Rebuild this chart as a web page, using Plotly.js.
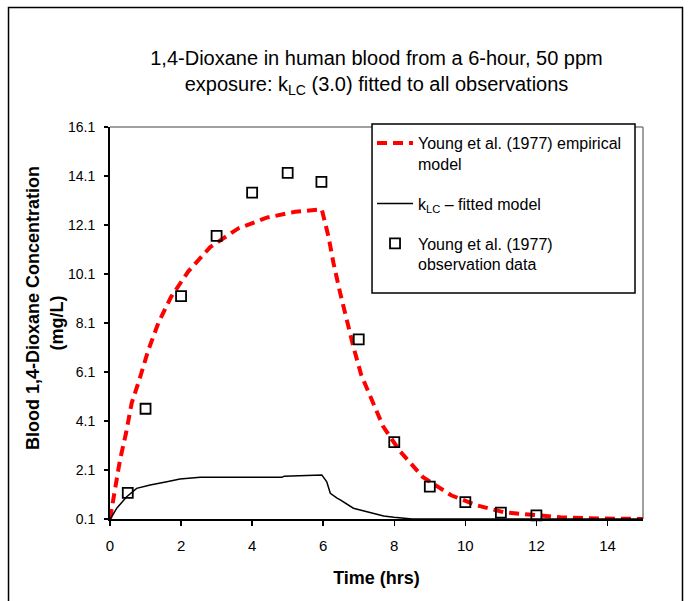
<!DOCTYPE html>
<html>
<head>
<meta charset="utf-8">
<script src="https://cdn.plot.ly/plotly-3.0.1.min.js"></script>
<style>html,body{margin:0;padding:0;background:#fff;}#chart{width:697px;height:601px;}</style>
</head>
<body>
<div id="chart"></div>
<script>
// Young et al. (1977) empirical model (red dashed)
var youngTime = [0, 0.14, 0.28, 0.45, 0.61, 0.85, 1.08, 1.36, 1.72, 2.2, 2.82, 3.61, 4.41, 5.21, 5.96, 6.15, 6.29, 6.48, 6.64, 6.85, 7.07, 7.37, 7.69, 8.17, 8.8, 9.6, 10.3, 11.1, 11.85, 12.68, 13.45, 14.15, 15];
var youngConc = [0.1, 1.42, 2.5, 3.6, 4.83, 5.9, 7.0, 8.1, 9.17, 10.2, 11.2, 11.96, 12.4, 12.64, 12.74, 11.62, 10.54, 9.31, 8.29, 7.13, 5.98, 4.96, 3.87, 2.85, 1.82, 1.07, 0.67, 0.37, 0.28, 0.17, 0.13, 0.1, 0.1];

// kLC fitted model (black solid)
var kTime = [0, 0.05, 0.19, 0.47, 0.75, 1.13, 1.6, 1.97, 2.54, 4.84, 4.9, 5.96, 6.1, 6.2, 6.39, 6.48, 6.85, 7.24, 7.7, 7.99, 8.5, 10.5, 15];
var kConc = [0.1, 0.2, 0.54, 1.01, 1.35, 1.49, 1.62, 1.73, 1.8, 1.8, 1.85, 1.9, 1.62, 1.15, 0.95, 0.88, 0.54, 0.4, 0.22, 0.17, 0.1, 0.1, 0.1];

// Young et al. (1977) observation data (open squares)
var obsTime = [0.5, 1, 2, 3, 4, 5, 5.95, 7, 8, 9, 10, 11, 12];
var obsConc = [1.17, 4.6, 9.2, 11.66, 13.42, 14.23, 13.86, 7.43, 3.24, 1.42, 0.79, 0.36, 0.25];

// axis ticks
var xTicks = [0, 2, 4, 6, 8, 10, 12, 14];
var yTicks = [0.1, 2.1, 4.1, 6.1, 8.1, 10.1, 12.1, 14.1, 16.1];
var yTickLabels = ['0.1', '2.1', '4.1', '6.1', '8.1', '10.1', '12.1', '14.1', '16.1'];

var FONT = 'Arial, "Liberation Sans", sans-serif';

var traces = [
  {
    x: youngTime, y: youngConc, type: 'scatter', mode: 'lines',
    name: 'Young et al. (1977) empirical<br>model', legendgroup: 'a',
    line: {color: '#ff0000', width: 4, dash: '10px,6px'}
  },
  {
    x: kTime, y: kConc, type: 'scatter', mode: 'lines',
    name: 'k<sub>LC</sub> \u2013 fitted model', legendgroup: 'b',
    line: {color: '#000000', width: 1.5}
  },
  {
    x: obsTime, y: obsConc, type: 'scatter', mode: 'markers',
    name: 'Young et al. (1977)<br>observation data', legendgroup: 'c',
    marker: {symbol: 'square-open', size: 10, color: '#000000', line: {width: 1.8, color: '#000000'}},
    cliponaxis: false
  }
];

var layout = {
  width: 697, height: 601,
  margin: {l: 110, r: 54, t: 127, b: 82},
  paper_bgcolor: '#ffffff', plot_bgcolor: '#ffffff',
  font: {family: FONT, color: '#000000', size: 15},
  showlegend: true,
  title: {
    text: '1,4-Dioxane in human blood from a 6-hour, 50 ppm<br>exposure: k<sub>LC</sub> (3.0) fitted to all observations',
    font: {family: FONT, size: 20, color: '#000000'},
    xref: 'paper', x: 0.5, xanchor: 'center',
    yref: 'container', y: 0.892, yanchor: 'middle'
  },
  xaxis: {
    range: [0, 15], tickvals: xTicks, ticktext: xTicks.map(String),
    showgrid: false, zeroline: false,
    showline: true, linecolor: '#000000', linewidth: 2,
    ticks: 'outside', ticklen: 5, tickwidth: 1.5, tickcolor: '#000000',
    ticklabelstandoff: 7,
    tickfont: {family: FONT, size: 15},
    title: {text: '<b>Time (hrs)</b>', font: {family: FONT, size: 18}, standoff: 18}
  },
  yaxis: {
    range: [0.1, 16.1], tickvals: yTicks, ticktext: yTickLabels,
    showgrid: false, zeroline: false,
    showline: true, linecolor: '#000000', linewidth: 2,
    ticks: 'outside', ticklen: 4, tickwidth: 1.5, tickcolor: '#000000',
    ticklabelstandoff: 6,
    tickfont: {family: FONT, size: 14},
    title: {text: '<b>\u00a0\u00a0\u00a0\u00a0\u00a0\u00a0Blood 1,4-Dioxane Concentration<br>(mg/L)</b>', font: {family: FONT, size: 18}, standoff: 0}
  },
  legend: {
    x: 0.4916, y: 1.0026, xanchor: 'left', yanchor: 'top',
    bgcolor: 'rgba(0,0,0,0)', bordercolor: '#000000', borderwidth: 0,
    font: {family: FONT, size: 16, color: '#000000'},
    tracegroupgap: 16, valign: 'top', itemwidth: 36
  },
  shapes: [
    {type: 'line', xref: 'paper', yref: 'paper', x0: 0, x1: 1, y0: 1, y1: 1, line: {color: '#808080', width: 1.5}, layer: 'below'},
    {type: 'line', xref: 'paper', yref: 'paper', x0: 1, x1: 1, y0: 0, y1: 1, line: {color: '#808080', width: 1.5}, layer: 'below'},
    {type: 'rect', xref: 'paper', yref: 'paper', x0: -0.1904, x1: 1.0741, y0: -0.2194, y1: 1.3048, line: {color: '#000000', width: 1.5}, fillcolor: 'rgba(0,0,0,0)', layer: 'below'},
    {type: 'rect', xref: 'paper', yref: 'paper', x0: 0.4916, x1: 0.985, y0: 0.5765, y1: 1.0077, line: {color: '#000000', width: 1.5}, fillcolor: '#ffffff', layer: 'above'}
  ]
};

Plotly.newPlot('chart', traces, layout, {displayModeBar: false, staticPlot: true});
</script>
</body>
</html>
